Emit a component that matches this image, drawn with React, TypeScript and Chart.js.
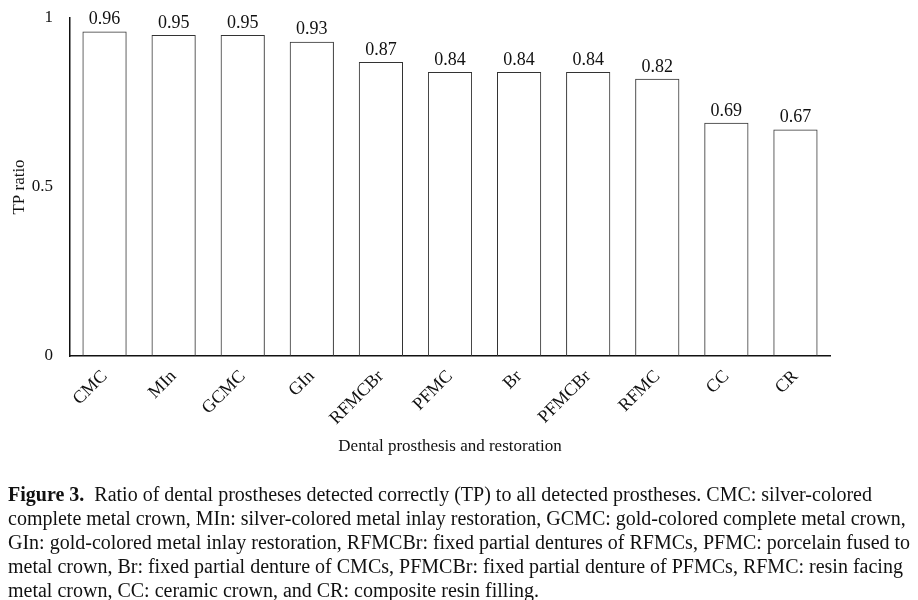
import React, { useEffect, useRef } from "react";
import { Chart, registerables } from "chart.js";

Chart.register(...registerables);

const categories = ["CMC", "MIn", "GCMC", "GIn", "RFMCBr", "PFMC", "Br", "PFMCBr", "RFMC", "CC", "CR"];
const tpRatio = [0.96, 0.95, 0.95, 0.93, 0.87, 0.84, 0.84, 0.84, 0.82, 0.69, 0.67];
const yTicks = [0, 0.5, 1];

const FONT = "'Liberation Serif', 'Times New Roman', serif";
const CANVAS_H = 465;

const valueLabels = {
  id: "valueLabels",
  afterDatasetsDraw(chart: any) {
    const ctx = chart.ctx;
    const meta = chart.getDatasetMeta(0);
    ctx.save();
    ctx.font = `18px ${FONT}`;
    ctx.fillStyle = "#111";
    ctx.textAlign = "center";
    ctx.textBaseline = "bottom";
    meta.data.forEach((bar: any, i: number) => {
      ctx.fillText(tpRatio[i].toFixed(2), bar.x, bar.y - 3);
    });
    ctx.restore();
  },
};

export default function App() {
  const ref = useRef<HTMLCanvasElement>(null);
  useEffect(() => {
    if (!ref.current) return;
    const chart = new Chart(ref.current, {
      type: "bar",
      data: {
        labels: categories,
        datasets: [
          {
            data: tpRatio,
            backgroundColor: "rgba(255,255,255,0)",
            borderColor: "#333",
            borderWidth: 1,
            categoryPercentage: 1,
            barPercentage: 0.64,
          },
        ],
      },
      options: {
        animation: false,
        responsive: false,
        maintainAspectRatio: false,
        layout: { padding: { left: 0, right: 88, top: 18, bottom: 0 } },
        plugins: { legend: { display: false }, tooltip: { enabled: false } },
        scales: {
          x: {
            grid: { display: false, drawTicks: false },
            border: { display: true, color: "#111", width: 1.5 },
            ticks: {
              color: "#111",
              font: { family: FONT, size: 18 },
              maxRotation: 45,
              minRotation: 45,
              padding: 10,
              autoSkip: false,
            },
            title: {
              display: true,
              text: "Dental prosthesis and restoration",
              color: "#111",
              font: { family: FONT, size: 17 },
              padding: { top: 0, bottom: 8 },
            },
            afterFit(scale: any) {
              scale.height = CANVAS_H - 356;
            },
          },
          y: {
            min: 0,
            max: 1,
            grid: { display: false, drawTicks: false },
            border: { display: true, color: "#111", width: 1.5 },
            afterBuildTicks(scale: any) {
              scale.ticks = yTicks.map((v) => ({ value: v }));
            },
            ticks: {
              color: "#111",
              font: { family: FONT, size: 17 },
              padding: 17,
              callback: (v: any) => String(v),
            },
            title: {
              display: true,
              text: "TP ratio",
              color: "#111",
              font: { family: FONT, size: 17 },
              padding: { top: 9, bottom: 0 },
            },
            afterFit(scale: any) {
              scale.width = 70;
              scale.paddingTop = 0;
              scale.paddingBottom = 0;
            },
          },
        },
      },
      plugins: [valueLabels],
    });
    return () => chart.destroy();
  }, []);

  const captionLines = [
    <>
      <b>Figure 3.</b>
      {"\u00a0\u00a0Ratio of dental prostheses detected correctly (TP) to all detected prostheses. CMC: silver-colored"}
    </>,
    "complete metal crown, MIn: silver-colored metal inlay restoration, GCMC: gold-colored complete metal crown,",
    "GIn: gold-colored metal inlay restoration, RFMCBr: fixed partial dentures of RFMCs, PFMC: porcelain fused to",
    "metal crown, Br: fixed partial denture of CMCs, PFMCBr: fixed partial denture of PFMCs, RFMC: resin facing",
    "metal crown, CC: ceramic crown, and CR: composite resin filling.",
  ];

  return (
    <div style={{ position: "fixed", left: 0, top: 0, width: 918, height: 600, background: "#fff" }}>
      <canvas ref={ref} width={918} height={CANVAS_H} style={{ position: "absolute", left: 0, top: 0 }} />
      <div
        style={{
          position: "absolute",
          left: 8,
          top: 482,
          fontFamily: FONT,
          fontSize: 20,
          lineHeight: "24px",
          color: "#111",
        }}
      >
        {captionLines.map((l, i) => (
          <div key={i} style={{ whiteSpace: "nowrap" }}>
            {l}
          </div>
        ))}
      </div>
    </div>
  );
}
